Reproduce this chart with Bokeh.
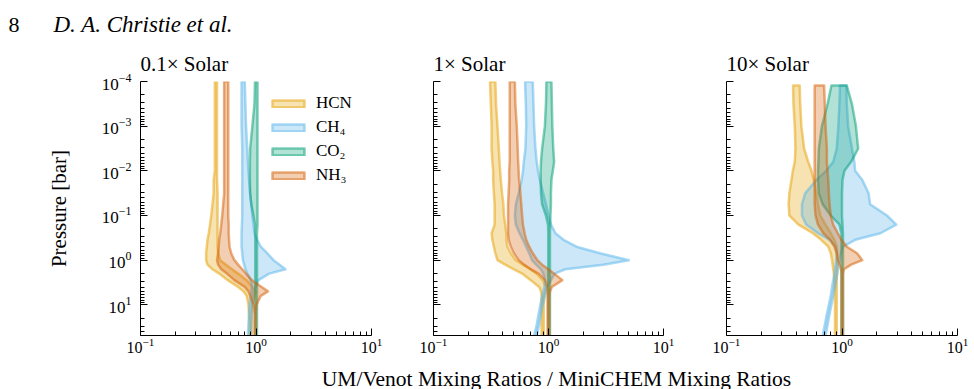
from bokeh.plotting import figure
from bokeh.models import Range1d, Legend, LegendItem, Label, FixedTicker, CustomJSTickFormatter
from bokeh.layouts import row, column
from bokeh.embed import file_html
from bokeh.resources import INLINE

FONT = "Liberation Serif"

SPECIES = ["HCN", "CH₄", "CO₂", "NH₃"]
COLORS = ["#E69F00", "#56B4E9", "#009E73", "#D55E00"]
PANEL_TITLES = ["0.1× Solar", "1× Solar", "10× Solar"]
X_LABEL = "UM/Venot Mixing Ratios / MiniCHEM Mixing Ratios"
Y_LABEL = "Pressure [bar]"
PAGE_NUMBER = "8"
RUNNING_HEAD = "D. A. Christie et al."
X_MAJOR = [0.1, 1, 10]
X_MINOR = [0.2, 0.3, 0.4, 0.5, 0.6, 0.7, 0.8, 0.9, 2, 3, 4, 5, 6, 7, 8, 9]
Y_MAJOR = [1e-4, 1e-3, 1e-2, 1e-1, 1, 10]
Y_MINOR = [m * d for d in [1e-4, 1e-3, 1e-2, 1e-1, 1, 10] for m in range(2, 10)]

# pressure levels [bar] (log10: -4 ... 1.69)
P_LEVELS = [1e-4, 3.2e-4, 1e-3, 3.2e-3, 6.3e-3, 1e-2, 1.6e-2, 3.2e-2, 5.6e-2, 0.1,
            0.16, 0.25, 0.35, 0.5, 0.7, 1.0, 1.26, 1.6, 2.0, 2.8, 4.0, 5.0, 6.3,
            10.0, 16.0, 28.0, 48.6]
P_LEVELS_10X = [1.23e-4] + P_LEVELS[1:]

# ---- 0.1x Solar: ratio band (low / high edge) ----
HCN_01_LO = [0.44, 0.44, 0.44, 0.44, 0.44, 0.44, 0.43, 0.43, 0.42, 0.41, 0.40, 0.39, 0.38,
             0.375, 0.37, 0.37, 0.38, 0.42, 0.48, 0.57, 0.70, 0.78, 0.83, 0.86, 0.87, 0.88, 0.88]
HCN_01_HI = [0.46, 0.46, 0.46, 0.46, 0.46, 0.46, 0.46, 0.465, 0.465, 0.465, 0.465, 0.465, 0.465,
             0.465, 0.47, 0.49, 0.55, 0.62, 0.70, 0.83, 0.93, 0.99, 0.97, 0.93, 0.92, 0.92, 0.92]
CH4_01_LO = [0.75, 0.75, 0.75, 0.76, 0.76, 0.76, 0.76, 0.76, 0.76, 0.76, 0.755, 0.75, 0.75,
             0.75, 0.76, 0.77, 0.79, 0.81, 0.84, 0.90, 0.92, 0.91, 0.90, 0.88, 0.87, 0.86, 0.85]
CH4_01_HI = [0.80, 0.81, 0.82, 0.84, 0.85, 0.86, 0.87, 0.89, 0.91, 0.93, 0.95, 0.97, 1.02,
             1.10, 1.25, 1.42, 1.60, 1.80, 1.30, 1.05, 0.99, 0.96, 0.95, 0.93, 0.92, 0.91, 0.90]
CO2_01_LO = [0.98, 0.97, 0.93, 0.89, 0.885, 0.885, 0.885, 0.89, 0.91, 0.95, 0.98, 0.985, 0.985,
             0.985, 0.985, 0.985, 0.985, 0.985, 0.985, 0.985, 0.985, 0.985, 0.985, 0.985, 0.985, 0.985, 0.985]
CO2_01_HI = [1.03, 1.03, 1.03, 1.03, 1.03, 1.03, 1.03, 1.03, 1.03, 1.03, 1.03, 1.02, 1.02,
             1.02, 1.02, 1.02, 1.02, 1.02, 1.02, 1.02, 1.02, 1.02, 1.02, 1.02, 1.02, 1.02, 1.02]
NH3_01_LO = [0.53, 0.53, 0.53, 0.53, 0.53, 0.53, 0.53, 0.53, 0.52, 0.51, 0.50, 0.49, 0.48,
             0.475, 0.47, 0.46, 0.47, 0.50, 0.56, 0.65, 0.80, 0.86, 0.89, 0.95, 0.97, 0.97, 0.97]
NH3_01_HI = [0.575, 0.575, 0.575, 0.575, 0.575, 0.575, 0.575, 0.575, 0.575, 0.575, 0.58, 0.58, 0.585,
             0.59, 0.61, 0.65, 0.70, 0.76, 0.82, 0.92, 1.12, 1.27, 1.10, 1.01, 1.0, 1.0, 1.0]

# ---- 1x Solar ----
HCN_1_LO = [0.31, 0.315, 0.32, 0.32, 0.325, 0.33, 0.33, 0.335, 0.34, 0.34, 0.34, 0.32, 0.325,
            0.335, 0.345, 0.36, 0.42, 0.50, 0.59, 0.70, 0.83, 0.86, 0.87, 0.87, 0.87, 0.87, 0.87]
HCN_1_HI = [0.345, 0.35, 0.36, 0.37, 0.375, 0.38, 0.385, 0.395, 0.405, 0.41, 0.42, 0.43, 0.43,
            0.44, 0.47, 0.52, 0.60, 0.70, 0.79, 0.89, 0.96, 0.94, 0.92, 0.91, 0.91, 0.91, 0.91]
CH4_1_LO = [0.625, 0.635, 0.64, 0.63, 0.61, 0.60, 0.585, 0.55, 0.52, 0.51, 0.52, 0.56, 0.60,
            0.64, 0.68, 0.72, 0.78, 0.86, 0.90, 0.93, 0.92, 0.90, 0.88, 0.85, 0.82, 0.79, 0.75]
CH4_1_HI = [0.73, 0.74, 0.75, 0.77, 0.79, 0.81, 0.84, 0.90, 0.95, 1.00, 1.05, 1.15, 1.35,
            1.75, 2.80, 5.00, 3.00, 1.40, 1.13, 1.05, 0.97, 0.95, 0.93, 0.89, 0.86, 0.83, 0.79]
CO2_1_LO = [0.96, 0.95, 0.93, 0.88, 0.86, 0.855, 0.855, 0.86, 0.88, 0.95, 0.99, 0.995, 0.995,
            0.995, 0.995, 0.995, 0.995, 0.995, 0.995, 0.995, 0.995, 0.995, 0.995, 0.995, 0.995, 0.995, 0.995]
CO2_1_HI = [1.06, 1.07, 1.08, 1.10, 1.12, 1.09, 1.06, 1.05, 1.05, 1.04, 1.035, 1.03, 1.03,
            1.03, 1.03, 1.03, 1.03, 1.03, 1.03, 1.03, 1.03, 1.03, 1.03, 1.03, 1.03, 1.03, 1.03]
NH3_1_LO = [0.46, 0.46, 0.46, 0.46, 0.46, 0.455, 0.455, 0.45, 0.445, 0.445, 0.445, 0.445, 0.45,
            0.47, 0.50, 0.55, 0.61, 0.70, 0.82, 0.93, 0.98, 0.98, 0.98, 0.98, 0.98, 0.98, 0.98]
NH3_1_HI = [0.51, 0.515, 0.53, 0.54, 0.545, 0.55, 0.555, 0.57, 0.58, 0.59, 0.60, 0.62, 0.64,
            0.68, 0.73, 0.80, 0.88, 1.00, 1.12, 1.32, 1.07, 1.03, 1.02, 1.02, 1.02, 1.02, 1.02]

# ---- 10x Solar ----
HCN_10_LO = [0.377, 0.38, 0.39, 0.395, 0.39, 0.375, 0.365, 0.35, 0.345, 0.35, 0.42, 0.56, 0.66,
             0.76, 0.80, 0.82, 0.83, 0.84, 0.85, 0.86, 0.86, 0.865, 0.865, 0.87, 0.87, 0.87, 0.87]
HCN_10_HI = [0.43, 0.435, 0.445, 0.47, 0.51, 0.545, 0.57, 0.60, 0.62, 0.65, 0.72, 0.80, 0.86,
             0.90, 0.91, 0.91, 0.91, 0.91, 0.905, 0.90, 0.90, 0.90, 0.90, 0.90, 0.90, 0.90, 0.90]
CH4_10_LO = [0.96, 0.95, 0.93, 0.90, 0.84, 0.73, 0.60, 0.48, 0.45, 0.45, 0.49, 0.62, 0.78,
             0.88, 0.90, 0.89, 0.88, 0.87, 0.86, 0.84, 0.82, 0.81, 0.80, 0.77, 0.74, 0.71, 0.68]
CH4_10_HI = [1.09, 1.10, 1.13, 1.22, 1.28, 1.30, 1.50, 1.70, 1.75, 2.45, 2.95, 2.15, 1.30,
             1.02, 0.98, 0.95, 0.93, 0.92, 0.91, 0.89, 0.87, 0.85, 0.84, 0.81, 0.78, 0.75, 0.72]
CO2_10_LO = [0.81, 0.75, 0.67, 0.63, 0.625, 0.62, 0.62, 0.63, 0.68, 0.80, 0.95, 0.99, 0.99,
             0.99, 0.99, 0.99, 0.99, 0.99, 0.99, 0.99, 0.99, 0.99, 0.99, 0.99, 0.99, 0.99, 0.99]
CO2_10_HI = [1.10, 1.22, 1.32, 1.38, 1.20, 1.05, 1.01, 1.00, 1.00, 1.00, 1.01, 1.02, 1.02,
             1.02, 1.02, 1.02, 1.02, 1.02, 1.02, 1.02, 1.02, 1.02, 1.02, 1.02, 1.02, 1.02, 1.02]
NH3_10_LO = [0.58, 0.58, 0.58, 0.58, 0.58, 0.58, 0.58, 0.58, 0.58, 0.59, 0.62, 0.69, 0.79,
             0.86, 0.90, 0.92, 0.95, 0.98, 0.99, 0.99, 0.99, 0.99, 0.99, 0.99, 0.99, 0.99, 0.99]
NH3_10_HI = [0.70, 0.71, 0.72, 0.74, 0.74, 0.75, 0.76, 0.77, 0.78, 0.80, 0.84, 0.92, 0.99,
             1.10, 1.35, 1.50, 1.20, 1.04, 1.02, 1.02, 1.02, 1.02, 1.02, 1.02, 1.02, 1.02, 1.02]

PANELS = [
    (P_LEVELS, [(HCN_01_LO, HCN_01_HI), (CH4_01_LO, CH4_01_HI), (CO2_01_LO, CO2_01_HI), (NH3_01_LO, NH3_01_HI)]),
    (P_LEVELS, [(HCN_1_LO, HCN_1_HI), (CH4_1_LO, CH4_1_HI), (CO2_1_LO, CO2_1_HI), (NH3_1_LO, NH3_1_HI)]),
    (P_LEVELS_10X, [(HCN_10_LO, HCN_10_HI), (CH4_10_LO, CH4_10_HI), (CO2_10_LO, CO2_10_HI), (NH3_10_LO, NH3_10_HI)]),
]

# layout: (width, min_border_left, frame_width, min_border_right)
GEOM = [(392, 140, 231, 21), (293, 41, 230, 22), (289, 41, 231, 17)]
HEAD_H = 36
BOTTOM_B = 28
ROW_H = (81 - HEAD_H) + 254 + BOTTOM_B
FOOT_H = 389 - HEAD_H - ROW_H


def blank_fig(w, h):
    f = figure(width=w, height=h, x_range=Range1d(0, w), y_range=Range1d(0, h),
               output_backend="svg", toolbar_location=None, title=None,
               x_axis_location=None, y_axis_location=None,
               min_border=0, min_border_left=0, min_border_right=0,
               min_border_top=0, min_border_bottom=0)
    f.outline_line_color = None
    f.xgrid.visible = False
    f.ygrid.visible = False
    return f


def style_axes(p, show_ylabels):
    p.xaxis.ticker = FixedTicker(ticks=X_MAJOR, minor_ticks=X_MINOR)
    p.yaxis.ticker = FixedTicker(ticks=Y_MAJOR, minor_ticks=Y_MINOR)
    for ax in (p.xaxis[0], p.yaxis[0]):
        ax.major_tick_in = 7
        ax.major_tick_out = 0
        ax.minor_tick_in = 4
        ax.minor_tick_out = 0
        ax.axis_line_color = "black"
        ax.major_tick_line_color = "black"
        ax.minor_tick_line_color = "black"
        ax.major_label_text_font = FONT
        ax.major_label_text_font_size = "17px"
        ax.major_label_text_color = "black"
        ax.axis_label_text_font = FONT
        ax.axis_label_text_font_size = "21px"
        ax.axis_label_text_font_style = "normal"
        ax.axis_label_text_color = "black"
    p.xaxis.major_label_text_font_size = "16px"
    p.xaxis.major_label_standoff = 2
    p.yaxis.major_label_standoff = 9
    if not show_ylabels:
        p.yaxis.formatter = CustomJSTickFormatter(code="return ''")
        p.yaxis.major_label_standoff = 0


figs = []
for i, (plev, bands) in enumerate(PANELS):
    w, bl, fw, br = GEOM[i]
    p = figure(width=w, height=ROW_H, x_axis_type="log", y_axis_type="log",
               x_range=Range1d(0.1, 10), y_range=Range1d(48.6, 1e-4),
               output_backend="svg", toolbar_location=None,
               min_border_left=bl, min_border_right=br,
               min_border_top=81 - HEAD_H, min_border_bottom=BOTTOM_B)
    p.frame_width = fw
    p.frame_height = 254
    p.outline_line_color = None
    p.xgrid.visible = False
    p.ygrid.visible = False
    p.background_fill_color = "white"
    p.border_fill_color = "white"
    p.title.text = PANEL_TITLES[i]
    p.title.align = "left"
    p.title.text_font = FONT
    p.title.text_font_size = "21px"
    p.title.text_font_style = "normal"
    p.title.text_color = "black"
    p.title.standoff = 12
    style_axes(p, i == 0)
    if i == 0:
        p.yaxis.axis_label = Y_LABEL
        p.yaxis.axis_label_standoff = 28

    legend_items = []
    for (lo, hi), name, color in zip(bands, SPECIES, COLORS):
        xs = list(lo) + list(hi)[::-1]
        ys = list(plev) + list(plev)[::-1]
        r = p.patch(xs, ys, fill_color=color, fill_alpha=0.3,
                    line_color=color, line_alpha=0.5, line_width=2.5, line_join="round")
        legend_items.append(LegendItem(label=name, renderers=[r]))
    if i == 0:
        leg = Legend(items=legend_items, location=(128, 150), glyph_width=40, glyph_height=9,
                     label_text_font=FONT, label_text_font_size="17px", label_height=20,
                     label_text_color="black",
                     spacing=4, padding=0, margin=0, border_line_color=None,
                     background_fill_alpha=0, label_standoff=8)
        p.add_layout(leg)
    figs.append(p)

head = blank_fig(974, HEAD_H)
head.add_layout(Label(x=8, y=12, text=PAGE_NUMBER, text_font=FONT, text_baseline="alphabetic",
                      text_font_size="22px", text_color="black"))
head.add_layout(Label(x=53, y=12, text=RUNNING_HEAD, text_font=FONT, text_baseline="alphabetic",
                      text_font_size="23px", text_font_style="italic", text_color="black"))

foot = blank_fig(974, FOOT_H)
foot.add_layout(Label(x=556, y=FOOT_H - 15, text=X_LABEL, text_font=FONT, text_align="center",
                      text_baseline="alphabetic", text_font_size="21.5px", text_color="black"))

layout = column(head, row(*figs, spacing=0), foot, spacing=0)
open("out.html", "w").write(file_html(layout, INLINE))
